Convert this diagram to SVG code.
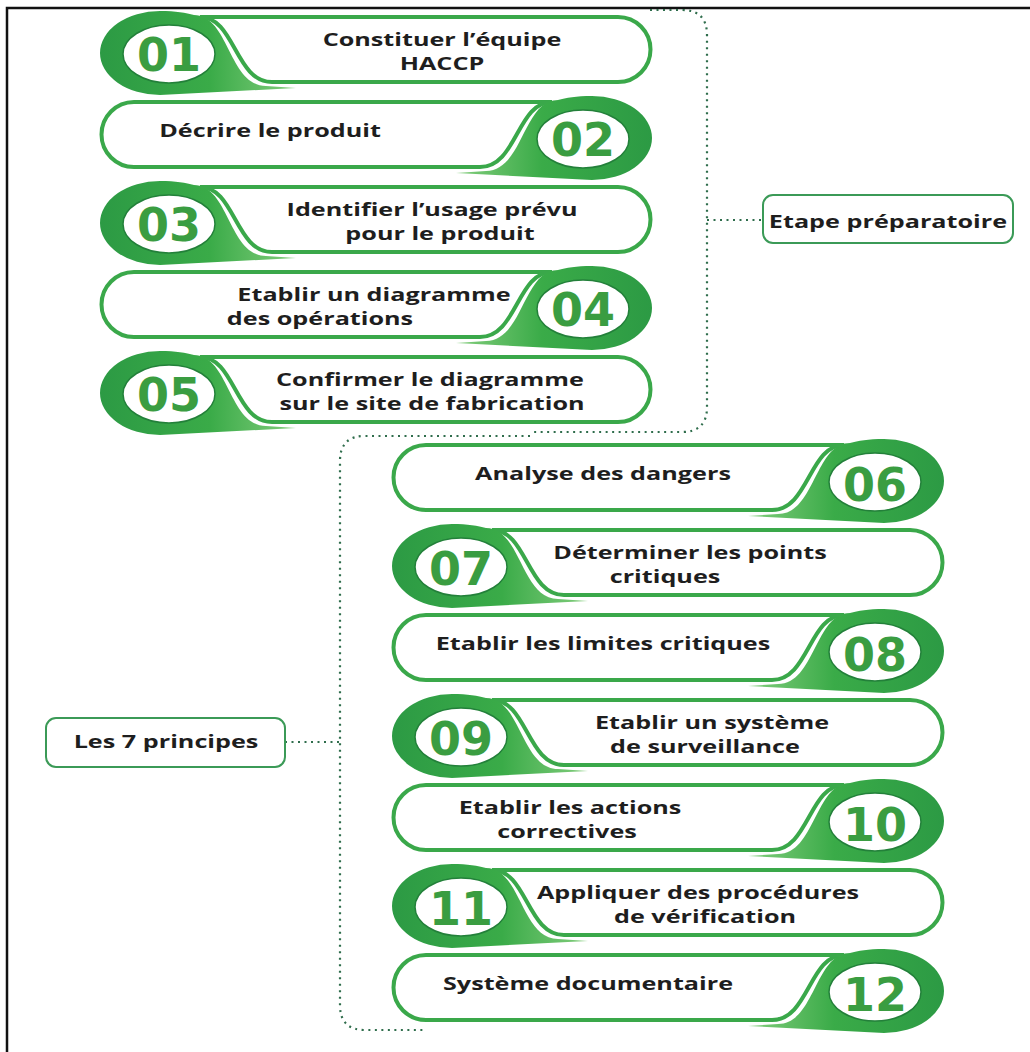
<svg xmlns="http://www.w3.org/2000/svg" width="1030" height="1052" viewBox="0 0 1030 1052">
  <style>
    .pill{fill:#fff;stroke:#3aa84a;stroke-width:4}
    .badge{fill:url(#badgeFill)}
    .disc{fill:#fff;stroke:#23803a;stroke-width:1.5}
    .num{font-family:"DejaVu Sans",sans-serif;font-weight:bold;font-size:46px;fill:#3a9d41;text-anchor:middle}
    .lbl{font-family:"Open Sans","Liberation Sans",sans-serif;font-weight:700;font-size:17.5px;fill:#1e1e1e;text-anchor:middle}
    .dots{fill:none;stroke:#2f6d4c;stroke-width:2.2;stroke-dasharray:2 4.5}
    .tag{fill:#fff;stroke:#3b9a57;stroke-width:2}
    .frame{fill:none;stroke:#111;stroke-width:2.5}
  </style>
  <defs>
    <linearGradient id="badgeFill" x1="0" y1="0" x2="200" y2="0" gradientUnits="userSpaceOnUse">
      <stop offset="0" stop-color="#2c9a44"/>
      <stop offset="0.55" stop-color="#3aab48"/>
      <stop offset="1" stop-color="#86cf7f"/>
    </linearGradient>
    <!-- one step: pill with S-shaped end, teardrop badge, white disc for the number -->
    <g id="step">
      <path class="pill" d="M100,0 H518 A32.5,32.5 0 0 1 518,65 H172 C135,65 135,0 100,0 Z"/>
      <path class="badge" d="M60,-6 C76,-6 86,-4 94,-2 C129,-2 129,69 166,69 L196,71 L60,78 A60,42 0 0 1 60,-6 Z"/>
      <ellipse class="disc" cx="69" cy="37" rx="46" ry="29"/>
    </g>
  </defs>

  <rect width="1030" height="1052" fill="#fff"/>
  <path class="frame" d="M7,1052 V8 H1030"/>

  <g id="connectors">
    <path class="dots" d="M650,10 H682 Q707,10 707,35 V407 Q707,432 682,432 H530"/>
    <path class="dots" d="M530,436 H365 Q340,436 340,461 V1005 Q340,1030 365,1030 H425"/>
    <path class="dots" d="M707,220 H763"/>
    <path class="dots" d="M285,742 H340"/>
  </g>

  <g id="tag-preparation">
    <rect class="tag" x="763" y="195" width="250" height="48" rx="10"/>
    <text class="lbl" transform="translate(888,228) scale(1.44,1)">Etape préparatoire</text>
  </g>
  <g id="tag-principles">
    <rect class="tag" x="46" y="718" width="239" height="49" rx="10"/>
    <text class="lbl" transform="translate(166,748) scale(1.44,1)">Les 7 principes</text>
  </g>

  <g id="step-01">
    <use href="#step" transform="translate(100,17)"/>
    <text class="num" x="169" y="71">01</text>
    <text class="lbl" transform="translate(442,46) scale(1.44,1)">Constituer l’équipe</text>
    <text class="lbl" transform="translate(442,70) scale(1.44,1)">HACCP</text>
  </g>
  <g id="step-02">
    <use href="#step" transform="translate(652,102) scale(-1,1)"/>
    <text class="num" x="583" y="156">02</text>
    <text class="lbl" transform="translate(270,137) scale(1.44,1)">Décrire le produit</text>
  </g>
  <g id="step-03">
    <use href="#step" transform="translate(100,187)"/>
    <text class="num" x="169" y="241">03</text>
    <text class="lbl" transform="translate(432,216) scale(1.44,1)">Identifier l’usage prévu</text>
    <text class="lbl" transform="translate(440,240) scale(1.44,1)">pour le produit</text>
  </g>
  <g id="step-04">
    <use href="#step" transform="translate(652,272) scale(-1,1)"/>
    <text class="num" x="583" y="326">04</text>
    <text class="lbl" transform="translate(374,301) scale(1.44,1)">Etablir un diagramme</text>
    <text class="lbl" transform="translate(320,325) scale(1.44,1)">des opérations</text>
  </g>
  <g id="step-05">
    <use href="#step" transform="translate(100,357)"/>
    <text class="num" x="169" y="411">05</text>
    <text class="lbl" transform="translate(430,386) scale(1.44,1)">Confirmer le diagramme</text>
    <text class="lbl" transform="translate(432,410) scale(1.44,1)">sur le site de fabrication</text>
  </g>
  <g id="step-06">
    <use href="#step" transform="translate(944,445) scale(-1,1)"/>
    <text class="num" x="875" y="501">06</text>
    <text class="lbl" transform="translate(603,480) scale(1.44,1)">Analyse des dangers</text>
  </g>
  <g id="step-07">
    <use href="#step" transform="translate(392,530)"/>
    <text class="num" x="461" y="585">07</text>
    <text class="lbl" transform="translate(690,559) scale(1.44,1)">Déterminer les points</text>
    <text class="lbl" transform="translate(665,583) scale(1.44,1)">critiques</text>
  </g>
  <g id="step-08">
    <use href="#step" transform="translate(944,615) scale(-1,1)"/>
    <text class="num" x="875" y="671">08</text>
    <text class="lbl" transform="translate(603,650) scale(1.44,1)">Etablir les limites critiques</text>
  </g>
  <g id="step-09">
    <use href="#step" transform="translate(392,700)"/>
    <text class="num" x="461" y="755">09</text>
    <text class="lbl" transform="translate(712,729) scale(1.44,1)">Etablir un système</text>
    <text class="lbl" transform="translate(705,753) scale(1.44,1)">de surveillance</text>
  </g>
  <g id="step-10">
    <use href="#step" transform="translate(944,785) scale(-1,1)"/>
    <text class="num" x="875" y="841">10</text>
    <text class="lbl" transform="translate(570,814) scale(1.44,1)">Etablir les actions</text>
    <text class="lbl" transform="translate(567,838) scale(1.44,1)">correctives</text>
  </g>
  <g id="step-11">
    <use href="#step" transform="translate(392,870)"/>
    <text class="num" x="461" y="925">11</text>
    <text class="lbl" transform="translate(698,899) scale(1.44,1)">Appliquer des procédures</text>
    <text class="lbl" transform="translate(705,923) scale(1.44,1)">de vérification</text>
  </g>
  <g id="step-12">
    <use href="#step" transform="translate(944,955) scale(-1,1)"/>
    <text class="num" x="875" y="1011">12</text>
    <text class="lbl" transform="translate(588,990) scale(1.44,1)">Système documentaire</text>
  </g>
</svg>
